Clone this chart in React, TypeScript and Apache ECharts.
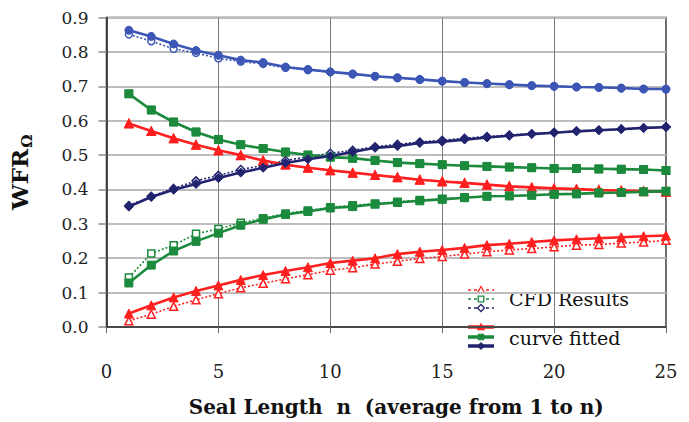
import React, { useEffect, useRef } from "react";
import * as echarts from "echarts";

const nValues = [1,2,3,4,5,6,7,8,9,10,11,12,13,14,15,16,17,18,19,20,21,22,23,24,25];

const blueFit = [0.863,0.845,0.823,0.804,0.790,0.776,0.769,0.756,0.749,0.742,0.736,0.729,0.725,0.720,0.715,0.711,0.708,0.705,0.702,0.700,0.698,0.697,0.695,0.692,0.692];
const blueCfd = [0.851,0.831,0.809,0.797,0.781,0.772,0.765,0.754,0.747,0.741,0.735,0.729,0.724,0.719,0.715,0.711,0.707,0.704,0.702,0.700,0.698,0.696,0.694,0.692,0.691];

const greenUpFit = [0.678,0.631,0.596,0.567,0.545,0.530,0.519,0.509,0.500,0.494,0.491,0.484,0.478,0.475,0.472,0.469,0.467,0.465,0.463,0.461,0.461,0.460,0.459,0.458,0.455];
const greenUpCfd = [0.678,0.631,0.596,0.567,0.545,0.530,0.519,0.508,0.500,0.494,0.490,0.484,0.479,0.475,0.472,0.469,0.467,0.465,0.463,0.461,0.460,0.459,0.458,0.457,0.455];

const redUpFit = [0.592,0.570,0.549,0.530,0.514,0.500,0.484,0.472,0.463,0.456,0.449,0.442,0.435,0.428,0.423,0.419,0.414,0.409,0.406,0.403,0.401,0.398,0.397,0.395,0.393];
const redUpCfd = [0.592,0.569,0.548,0.530,0.513,0.499,0.485,0.473,0.463,0.455,0.448,0.442,0.436,0.429,0.424,0.419,0.414,0.410,0.406,0.403,0.401,0.399,0.397,0.395,0.394];

const navyFit = [0.350,0.378,0.399,0.416,0.433,0.449,0.463,0.477,0.488,0.497,0.509,0.521,0.526,0.535,0.539,0.545,0.551,0.556,0.561,0.565,0.569,0.572,0.575,0.579,0.581];
const navyCfd = [0.353,0.380,0.403,0.425,0.441,0.458,0.470,0.484,0.495,0.505,0.514,0.524,0.531,0.538,0.543,0.549,0.554,0.558,0.562,0.566,0.570,0.573,0.576,0.579,0.582];

const greenLowFit = [0.128,0.180,0.221,0.249,0.273,0.296,0.313,0.327,0.336,0.346,0.350,0.357,0.362,0.367,0.371,0.376,0.380,0.381,0.383,0.386,0.387,0.390,0.391,0.393,0.395];
const greenLowCfd = [0.144,0.214,0.238,0.271,0.285,0.303,0.316,0.330,0.339,0.348,0.354,0.359,0.364,0.369,0.373,0.377,0.380,0.382,0.384,0.386,0.388,0.390,0.391,0.393,0.395];

const redLowFit = [0.039,0.063,0.086,0.105,0.121,0.137,0.151,0.163,0.174,0.186,0.193,0.200,0.212,0.219,0.224,0.230,0.238,0.242,0.247,0.252,0.255,0.258,0.261,0.264,0.266];
const redLowCfd = [0.018,0.037,0.060,0.079,0.097,0.114,0.127,0.140,0.152,0.165,0.172,0.183,0.191,0.199,0.205,0.212,0.219,0.224,0.228,0.233,0.238,0.240,0.244,0.247,0.252];

const xTicks = { min: 0, max: 25, interval: 5 };
const yTicks = { min: 0, max: 0.9, interval: 0.1 };

const RED = "#ff1f1f";
const GREEN = "#1c8a3c";
const BLUE = "#3b56b5";
const NAVY = "#22236f";
const SERIF = "DejaVu Serif";

const pairs = (ys: number[]) => nValues.map((n, i) => [n, ys[i]]);

function cfdSeries(name: string, ys: number[], color: string, symbol: string, size: number) {
  return {
    name,
    type: "line",
    data: pairs(ys),
    symbol,
    symbolSize: size,
    showSymbol: true,
    lineStyle: { color, width: 1.6, type: [2, 2] },
    itemStyle: { color: "#ffffff", borderColor: color, borderWidth: 1.5 },
    z: 3,
  };
}

function fitSeries(name: string, ys: number[], color: string, symbol: string, size: number) {
  return {
    name,
    type: "line",
    data: pairs(ys),
    symbol,
    symbolSize: size,
    showSymbol: true,
    lineStyle: { color, width: 2.6 },
    itemStyle: { color, borderColor: color, borderWidth: 1 },
    z: 4,
  };
}

export default function App() {
  const ref = useRef<HTMLDivElement>(null);
  useEffect(() => {
    if (!ref.current) return;
    const chart = echarts.init(ref.current, undefined, { renderer: "svg" });

    const lx1 = 468, lx2 = 494, lmx = 481;
    const cfdRows = [
      { y: 290, color: RED, kind: "tri" },
      { y: 299, color: GREEN, kind: "sq" },
      { y: 308, color: NAVY, kind: "dia" },
    ];
    const fitRows = [
      { y: 327, color: RED, kind: "tri" },
      { y: 337, color: GREEN, kind: "sq" },
      { y: 346, color: NAVY, kind: "dia" },
    ];
    const marker = (kind: string, cx: number, cy: number, color: string, hollow: boolean, r: number) => {
      const style = hollow
        ? { fill: "#fff", stroke: color, lineWidth: 1.3 }
        : { fill: color, stroke: color, lineWidth: 1 };
      if (kind === "tri") {
        return { type: "polygon", shape: { points: [[cx, cy - r], [cx + r, cy + r * 0.8], [cx - r, cy + r * 0.8]] }, style };
      }
      if (kind === "sq") {
        return { type: "rect", shape: { x: cx - r * 0.8, y: cy - r * 0.8, width: r * 1.6, height: r * 1.6 }, style };
      }
      return { type: "polygon", shape: { points: [[cx, cy - r], [cx + r, cy], [cx, cy + r], [cx - r, cy]] }, style };
    };
    const legendChildren: any[] = [
      { type: "rect", shape: { x: 464, y: 281, width: 174, height: 73 }, style: { fill: "#ffffff" } },
    ];
    cfdRows.forEach((r) => {
      legendChildren.push({ type: "line", shape: { x1: lx1, y1: r.y, x2: lx2, y2: r.y }, style: { stroke: r.color, lineWidth: 1.5, lineDash: [3, 3] } });
      legendChildren.push(marker(r.kind, lmx, r.y, r.color, true, 3.5));
    });
    fitRows.forEach((r) => {
      legendChildren.push({ type: "line", shape: { x1: lx1, y1: r.y, x2: lx2, y2: r.y }, style: { stroke: r.color, lineWidth: 3.5 } });
      legendChildren.push(marker(r.kind, lmx, r.y, r.color, false, 3.5));
    });
    legendChildren.push({ type: "text", style: { x: 509, y: 299, text: "CFD Results", fontFamily: SERIF, fontSize: 19, fill: "#111", verticalAlign: "middle" } });
    legendChildren.push({ type: "text", style: { x: 509, y: 338, text: "curve fitted", fontFamily: SERIF, fontSize: 19, fill: "#111", verticalAlign: "middle" } });

    chart.setOption({
      animation: false,
      backgroundColor: "#ffffff",
      textStyle: { fontFamily: SERIF },
      grid: { left: 100, right: 23, top: 17.5, bottom: 84, show: true, borderColor: "#333", borderWidth: 1.5, backgroundColor: "transparent" },
      xAxis: {
        type: "value",
        min: xTicks.min,
        max: xTicks.max,
        interval: xTicks.interval,
        name: "Seal Length  n  (average from 1 to n)",
        nameLocation: "middle",
        nameGap: 70,
        nameTextStyle: { fontFamily: SERIF, fontSize: 20, fontWeight: "bold", color: "#111", padding: [0, 0, 0, 20] },
        axisLine: { show: true, onZero: false, lineStyle: { color: "#222", width: 1.5 } },
        axisTick: { show: true, inside: false, length: 6, lineStyle: { color: "#666", width: 1 } },
        axisLabel: { fontFamily: SERIF, fontSize: 18, color: "#222", margin: 35 },
        splitLine: { show: true, lineStyle: { color: "#7a7a7a", width: 1 } },
      },
      yAxis: {
        type: "value",
        min: yTicks.min,
        max: yTicks.max,
        interval: yTicks.interval,
        name: "{a|WFR}{b|Ω}",
        nameLocation: "middle",
        nameRotate: 90,
        nameGap: 72,
        nameTextStyle: {
          rich: {
            a: { fontFamily: SERIF, fontSize: 23, fontWeight: "bold", color: "#111", lineHeight: 30, verticalAlign: "middle" },
            b: { fontFamily: SERIF, fontSize: 15, fontWeight: "bold", color: "#111", lineHeight: 30, verticalAlign: "bottom", padding: [0, 0, 0, 1] },
          },
        },
        axisLine: { show: true, lineStyle: { color: "#222", width: 1.5 } },
        axisTick: { show: true, inside: false, length: 8, lineStyle: { color: "#888", width: 1.5 } },
        axisLabel: { fontFamily: SERIF, fontSize: 17, color: "#222", margin: 18, formatter: (v: number) => v.toFixed(1) },
        splitLine: { show: true, lineStyle: { color: "#bdbdbd", width: 2 } },
      },
      series: [
        cfdSeries("CFD blue", blueCfd, BLUE, "circle", 7),
        cfdSeries("CFD green upper", greenUpCfd, GREEN, "rect", 7),
        cfdSeries("CFD red upper", redUpCfd, RED, "triangle", 8),
        cfdSeries("CFD navy", navyCfd, NAVY, "diamond", 8),
        cfdSeries("CFD green lower", greenLowCfd, GREEN, "rect", 7),
        cfdSeries("CFD red lower", redLowCfd, RED, "triangle", 8),
        fitSeries("fit blue", blueFit, BLUE, "circle", 8),
        fitSeries("fit green upper", greenUpFit, GREEN, "rect", 8),
        fitSeries("fit red upper", redUpFit, RED, "triangle", 9),
        fitSeries("fit navy", navyFit, NAVY, "diamond", 9),
        fitSeries("fit green lower", greenLowFit, GREEN, "rect", 8),
        fitSeries("fit red lower", redLowFit, RED, "triangle", 9),
      ],
      graphic: [{ type: "group", z: 100, children: legendChildren }],
    });
    return () => chart.dispose();
  }, []);
  return <div ref={ref} style={{ width: 689, height: 422, position: "absolute", left: 0, top: 0 }} />;
}
